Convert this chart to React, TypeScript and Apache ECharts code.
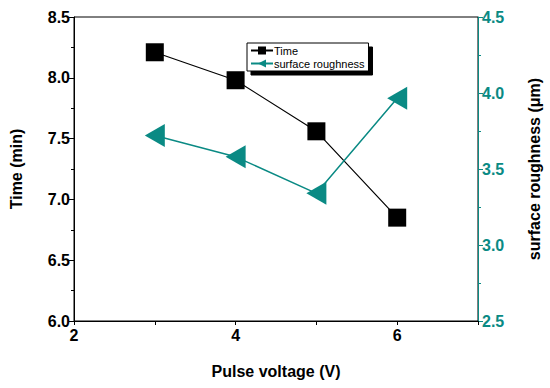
import React, { useEffect, useRef } from "react";
import * as echarts from "echarts";

const voltages = [3, 4, 5, 6];
const timeValues = [8.21, 7.98, 7.56, 6.85];
const roughnessValues = [3.72, 3.58, 3.34, 3.965];
const teal = "#0a8a84";
const font = "Liberation Sans, Arial, sans-serif";

export default function App() {
  const ref = useRef<HTMLDivElement>(null);
  useEffect(() => {
    if (!ref.current) return;
    const chart = echarts.init(ref.current, undefined, { renderer: "svg" });
    chart.setOption({
      animation: false,
      backgroundColor: "#fff",
      textStyle: { fontFamily: font },
      grid: { left: 70, right: 71, top: 17, bottom: 67, show: true, borderColor: "#000", borderWidth: 1 },
      legend: {
        left: 247,
        top: 43,
        orient: "vertical",
        itemGap: 2,
        itemWidth: 22,
        itemHeight: 10,
        padding: [2, 4, 2, 3],
        backgroundColor: "#fff",
        borderColor: "#000",
        borderWidth: 1,
        borderRadius: 0,
        shadowColor: "#000",
        shadowOffsetX: 4,
        shadowOffsetY: 4,
        shadowBlur: 0,
        textStyle: { fontFamily: font, fontSize: 11, color: "#000", padding: [0, 0, 0, -4] },
        data: ["Time", "surface roughness"],
      },
      xAxis: {
        type: "value",
        min: 2,
        max: 7,
        interval: 1,
        name: "Pulse voltage (V)",
        nameLocation: "middle",
        nameGap: 42,
        nameTextStyle: { fontFamily: font, fontSize: 16, fontWeight: "bold", color: "#000" },
        axisLine: { lineStyle: { color: "#000", width: 1 } },
        axisTick: { show: true, inside: false, length: 4, lineStyle: { color: "#000" } },
        axisLabel: {
          fontFamily: font,
          fontSize: 16,
          fontWeight: "bold",
          color: "#000",
          margin: 6,
          formatter: (v: number) => (v % 2 === 0 ? String(v) : ""),
        },
        splitLine: { show: false },
      },
      yAxis: [
        {
          type: "value",
          min: 6,
          max: 8.5,
          interval: 0.5,
          position: "left",
          name: "Time (min)",
          nameLocation: "middle",
          nameRotate: 90,
          nameGap: 50,
          nameTextStyle: { fontFamily: font, fontSize: 16, fontWeight: "bold", color: "#000" },
          axisLine: { show: true, lineStyle: { color: "#000", width: 1 } },
          axisTick: { show: true, inside: false, length: 5, lineStyle: { color: "#000" } },
          minorTick: { show: true, splitNumber: 2, length: 3, lineStyle: { color: "#000" } },
          axisLabel: {
            fontFamily: font,
            fontSize: 16,
            fontWeight: "bold",
            color: "#000",
            margin: 4,
            formatter: (v: number) => v.toFixed(1),
          },
          splitLine: { show: false },
        },
        {
          type: "value",
          min: 2.5,
          max: 4.5,
          interval: 0.5,
          position: "right",
          name: "surface roughness (μm)",
          nameLocation: "middle",
          nameRotate: 90,
          nameGap: 48,
          nameTextStyle: { fontFamily: font, fontSize: 16, fontWeight: "bold", color: "#000" },
          axisLine: { show: true, lineStyle: { color: teal, width: 1 } },
          axisTick: { show: true, inside: false, length: 5, lineStyle: { color: teal } },
          minorTick: { show: true, splitNumber: 2, length: 3, lineStyle: { color: teal } },
          axisLabel: {
            fontFamily: font,
            fontSize: 16,
            fontWeight: "bold",
            color: teal,
            margin: 4,
            formatter: (v: number) => v.toFixed(1),
          },
          splitLine: { show: false },
        },
      ],
      series: [
        {
          name: "Time",
          type: "line",
          yAxisIndex: 0,
          data: voltages.map((v, i) => [v, timeValues[i]]),
          symbol: "rect",
          symbolSize: 18,
          itemStyle: { color: "#000" },
          lineStyle: { color: "#000", width: 1.2 },
        },
        {
          name: "surface roughness",
          type: "line",
          yAxisIndex: 1,
          data: voltages.map((v, i) => [v, roughnessValues[i]]),
          symbol: "triangle",
          symbolRotate: 90,
          symbolSize: [23, 20],
          itemStyle: { color: teal },
          lineStyle: { color: teal, width: 1.5 },
        },
      ],
    });
    return () => chart.dispose();
  }, []);
  return <div ref={ref} style={{ width: 550, height: 388, position: "absolute", left: 0, top: 0 }} />;
}
